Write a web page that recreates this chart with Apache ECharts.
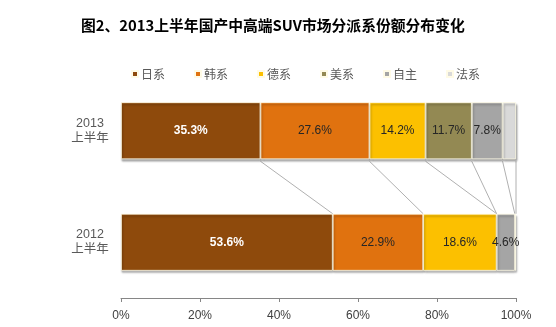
<!DOCTYPE html>
<html><head><meta charset="utf-8">
<script src="https://cdn.jsdelivr.net/npm/echarts@6/dist/echarts.min.js"></script>
<style>html,body{margin:0;padding:0;background:#fff}#c{width:556px;height:327px}</style>
</head><body><div id="c"></div>
<script>
var title = '图2、2013上半年国产中高端SUV市场分派系份额分布变化';
var categories = ['2013\n上半年', '2012\n上半年'];
var seriesNames = ['日系', '韩系', '德系', '美系', '自主', '法系'];
var japan = [35.3, 53.6];
var korea = [27.6, 22.9];
var germany = [14.2, 18.6];
var usa = [11.7, 0];
var domestic = [7.8, 4.6];
var france = [3.4, 0.3];
var showLabel = [true, true, true, true, true, false];
var tickLabels = ['0%', '20%', '40%', '60%', '80%', '100%'];

var colors = ['#8E4A0C', '#E0720F', '#FCC000', '#938953', '#A5A5A5', '#D9D9D9'];
var values = [japan, korea, germany, usa, domestic, france];
var BAR_W = 57;
var font = '"Liberation Sans", Arial, "Noto Sans CJK SC", sans-serif';

// cumulative boundaries for series lines
var cum = [[], []];
var acc = [0, 0];
values.forEach(function (v) {
  for (var k = 0; k < 2; k++) { acc[k] += v[k]; cum[k].push(Math.round(acc[k] * 10) / 10); }
});
var lineData = cum[0].map(function (c, i) { return [c, cum[1][i], 0, 1]; });

var series = values.map(function (v, i) {
  return {
    name: seriesNames[i], type: 'bar', stack: 'all', barWidth: BAR_W,
    data: v.map(function (x) { return x > 0 ? x : null; }),
    itemStyle: { color: colors[i], borderColor: '#fffbe6', borderWidth: 0.8,
      shadowColor: 'rgba(0,0,0,0.35)', shadowOffsetY: 2, shadowOffsetX: 1, shadowBlur: 2 },
    label: { show: showLabel[i], position: 'inside',
      formatter: function (p) { return p.value.toFixed(1) + '%'; },
      color: i === 0 ? '#ffffff' : '#262626', fontWeight: i === 0 ? 'bold' : 'normal',
      fontSize: 12, fontFamily: font },
    z: 3
  };
});
series.push({
  type: 'custom', coordinateSystem: 'cartesian2d', silent: true, z: 1,
  encode: { x: [0, 1], y: [2, 3] },
  data: lineData,
  renderItem: function (params, api) {
    var p1 = api.coord([api.value(0), api.value(2)]);
    var p2 = api.coord([api.value(1), api.value(3)]);
    return { type: 'line',
      shape: { x1: p1[0], y1: p1[1] + BAR_W / 2 + 2, x2: p2[0], y2: p2[1] - BAR_W / 2 },
      style: { stroke: '#b0b0b0', lineWidth: 1 } };
  }
});

var chart = echarts.init(document.getElementById('c'));
chart.setOption({
  animation: false,
  color: colors,
  title: { text: title, left: 76, top: 13, itemGap: 0,
    textStyle: { fontSize: 14.8, fontWeight: 'bold', color: '#000', fontFamily: '"Noto Sans CJK SC", sans-serif' } },
  legend: { data: seriesNames, top: 63, left: 126, itemWidth: 6, itemHeight: 6, itemGap: 29,
    icon: 'rect',
    textStyle: { fontSize: 12, color: '#595959', fontFamily: '"Noto Sans CJK SC", sans-serif', padding: [0, 0, 0, -2] } },
  grid: { left: 121, right: 40, top: 75, bottom: 29 },
  xAxis: { type: 'value', min: 0, max: 100, interval: 20,
    axisLine: { show: true, lineStyle: { color: '#868686' } },
    axisTick: { show: true, length: 4, lineStyle: { color: '#868686' } },
    splitLine: { show: false },
    axisLabel: { formatter: function (v) { return tickLabels[Math.round(v / 20)]; },
      color: '#404040', fontSize: 12, fontFamily: font, margin: 12 } },
  yAxis: { type: 'category', data: categories, inverse: true,
    axisLine: { show: false }, axisTick: { show: false },
    axisLabel: { align: 'center', margin: 31, color: '#595959', fontSize: 12.5, lineHeight: 15,
      fontFamily: font } },
  series: series
});
</script></body></html>
